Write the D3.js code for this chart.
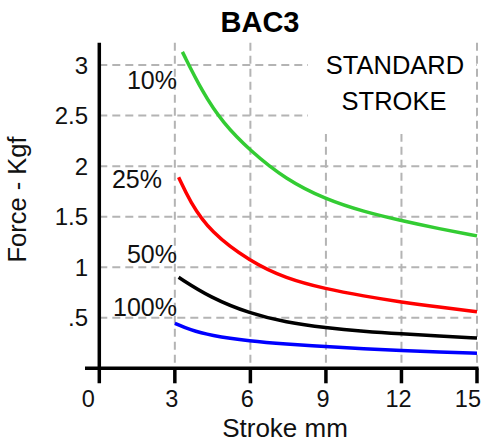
<!DOCTYPE html>
<html>
<head>
<meta charset="utf-8">
<script src="https://cdn.jsdelivr.net/npm/d3@7"></script>
<style>
  html, body { margin: 0; padding: 0; background: #fff; }
  svg { display: block; font-family: "Liberation Sans", Arial, sans-serif; }
</style>
</head>
<body>
<svg id="chart" width="486" height="444"></svg>
<script>
// ---- data ----
const title = "BAC3";
const xLabel = "Stroke mm";
const yLabel = "Force - Kgf";
const xTicks = [0, 3, 6, 9, 12, 15];
const yTicks = [0.5, 1, 1.5, 2, 2.5, 3];
const yTickLabels = [".5", "1", "1.5", "2", "2.5", "3"];
const seriesNames = ["10%", "25%", "50%", "100%"];
const seriesColors = ["#33cc33", "#ff0000", "#000000", "#0000ff"];

const stroke10 = [3.3, 4.1, 4.9, 6, 7.4, 9, 10.5, 12, 13.5, 15];
const force10  = [3.13, 2.73, 2.43, 2.15, 1.87, 1.67, 1.55, 1.46, 1.38, 1.31];
const stroke25 = [3.15, 3.6, 4.4, 6, 7.4, 9, 10.5, 12, 13.5, 15];
const force25  = [1.89, 1.65, 1.35, 1.055, 0.89, 0.785, 0.715, 0.655, 0.605, 0.56];
const stroke50 = [3.15, 4.4, 6, 7.4, 9, 10.5, 12, 13.5, 15];
const force50  = [0.90, 0.70, 0.54, 0.455, 0.4, 0.365, 0.34, 0.32, 0.30];
const stroke100 = [3.0, 3.6, 4.4, 6, 7.4, 9, 10.5, 12, 13.5, 15];
const force100  = [0.445, 0.38, 0.325, 0.268, 0.24, 0.215, 0.193, 0.176, 0.162, 0.15];

const series = [
  { name: seriesNames[0], color: seriesColors[0], xs: stroke10,  ys: force10 },
  { name: seriesNames[1], color: seriesColors[1], xs: stroke25,  ys: force25 },
  { name: seriesNames[2], color: seriesColors[2], xs: stroke50,  ys: force50 },
  { name: seriesNames[3], color: seriesColors[3], xs: stroke100, ys: force100 }
];

// ---- layout ----
const svg = d3.select("#chart");
const x = d3.scaleLinear().domain([0, 15]).range([99.3, 477]);
const y = d3.scaleLinear().domain([0, 3.22]).range([368.3, 42.8]);
const gridColor = "#b4b4b4";

// gridlines
const grid = svg.append("g");
grid.selectAll("line.h").data(yTicks).join("line")
  .attr("x1", x(0)).attr("x2", x(15))
  .attr("y1", d => y(d)).attr("y2", d => y(d))
  .attr("stroke", gridColor).attr("stroke-width", 2).attr("stroke-dasharray", "8,5");
grid.selectAll("line.v").data(xTicks.filter(d => d > 0)).join("line")
  .attr("x1", d => x(d)).attr("x2", d => x(d))
  .attr("y1", y(3.22)).attr("y2", y(0))
  .attr("stroke", gridColor).attr("stroke-width", 2).attr("stroke-dasharray", "8,5");

// white box behind annotation
svg.append("rect")
  .attr("x", 308).attr("y", 38).attr("width", x(15) - 2 - 308).attr("height", 96)
  .attr("fill", "#fff");

const note = svg.append("text")
  .attr("text-anchor", "middle").attr("font-size", 25.5).attr("fill", "#000");
note.append("tspan").attr("x", 395).attr("y", 74).text("STANDARD");
note.append("tspan").attr("x", 394).attr("y", 110).text("STROKE");

// curves
const line = d3.line()
  .x(d => x(d[0])).y(d => y(d[1]))
  .curve(d3.curveBasis);
svg.append("g").selectAll("path").data(series).join("path")
  .attr("d", s => line(s.xs.map((v, i) => [v, s.ys[i]])))
  .attr("fill", "none").attr("stroke", s => s.color)
  .attr("stroke-width", 3.5).attr("stroke-linecap", "butt");

// series labels
const labelPos = [
  { anchorX: 177, baseline: 89 },
  { anchorX: 162, baseline: 188 },
  { anchorX: 177, baseline: 263 },
  { anchorX: 177, baseline: 316 }
];
svg.append("g").selectAll("text").data(series).join("text")
  .attr("x", (d, i) => labelPos[i].anchorX)
  .attr("y", (d, i) => labelPos[i].baseline)
  .attr("text-anchor", "end").attr("font-size", 25).attr("fill", "#111")
  .text(d => d.name);

// axes
const axisW = 3.5;
svg.append("line")
  .attr("x1", 85).attr("x2", x(15) + 1.5)
  .attr("y1", y(0)).attr("y2", y(0))
  .attr("stroke", "#000").attr("stroke-width", axisW);
svg.append("line")
  .attr("x1", x(0)).attr("x2", x(0))
  .attr("y1", y(3.22)).attr("y2", y(0) + 15)
  .attr("stroke", "#000").attr("stroke-width", axisW);
svg.append("g").selectAll("line").data(xTicks.filter(d => d > 0)).join("line")
  .attr("x1", d => x(d)).attr("x2", d => x(d))
  .attr("y1", y(0)).attr("y2", y(0) + 15)
  .attr("stroke", "#000").attr("stroke-width", axisW);
svg.append("g").selectAll("text").data(xTicks).join("text")
  .attr("x", d => d === 0 ? x(d) - 11 : (d === 15 ? 481 : x(d) - 3))
  .attr("y", 406.5)
  .attr("text-anchor", d => d === 15 ? "end" : "middle")
  .attr("font-size", 23.5).attr("fill", "#111")
  .text(d => d);
svg.append("g").selectAll("text").data(yTicks).join("text")
  .attr("x", 88)
  .attr("y", d => y(d))
  .attr("dy", "0.36em")
  .attr("text-anchor", "end").attr("font-size", 24).attr("fill", "#111")
  .text((d, i) => yTickLabels[i]);

// titles
svg.append("text")
  .attr("x", 260).attr("y", 32)
  .attr("text-anchor", "middle").attr("font-size", 29).attr("font-weight", "bold")
  .text(title);
svg.append("text")
  .attr("x", 285).attr("y", 437)
  .attr("text-anchor", "middle").attr("font-size", 26).attr("fill", "#111")
  .text(xLabel);
svg.append("text")
  .attr("transform", "translate(26,199.5) rotate(-90)")
  .attr("text-anchor", "middle").attr("font-size", 25.5).attr("fill", "#111")
  .text(yLabel);
</script>
</body>
</html>
